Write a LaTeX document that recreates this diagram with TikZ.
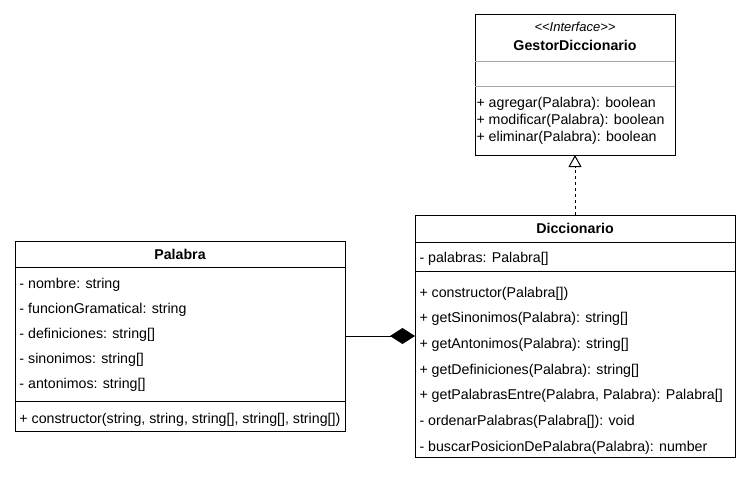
\documentclass[tikz,border=0pt]{standalone}
\usepackage{fontspec}
\setmainfont{Liberation Sans}
\usepackage{tikz}
\usetikzlibrary{arrows.meta,positioning}
\definecolor{sepgray}{HTML}{A6A6A6}

\begin{document}
\begin{tikzpicture}[x=1pt, y=-1pt, line width=1pt,
		every node/.style={font=\fontsize{14.2}{16.8}\selectfont},
		classbox/.style={draw, fill=white, inner sep=0pt, outer sep=0pt},
		classname/.style={font=\fontsize{14.2}{16.8}\selectfont\bfseries, inner sep=0pt},
		member/.style={anchor=west, inner sep=0pt, outer sep=0pt, text height=10pt, text depth=3pt}]
	\useasboundingbox (0,0) rectangle (751,476);

	% interfaz
	\node[classbox, minimum width=200pt, minimum height=140pt] (gestor) at (575,85) {};
	\node[font=\fontsize{13}{15}\selectfont\itshape, inner sep=0pt] (gestor-st) at (575,27) {<\kern0pt<Interface>\kern0pt>};
	\node[classname] (gestor-name) at (575,45) {GestorDiccionario};
	\draw[sepgray] (gestor.north west) ++(0,47) -- ++(200,0);
	\draw[sepgray] (gestor.north west) ++(0,72) -- ++(200,0);
	\node[anchor=west, align=left, inner sep=0pt] (gestor-ops) at (476,121) {+ agregar(Palabra): boolean\\+ modificar(Palabra): boolean\\+ eliminar(Palabra): boolean};

	% clase Diccionario
	\node[classbox, minimum width=320pt, minimum height=242pt] (diccionario) at (575,336) {};
	\node[classname] (dicc-name) at (575,228.5) {Diccionario};
	\draw (diccionario.north west) ++(0,27) -- ++(320,0);
	\node[member] (dicc-a1) at (419.5,258.5) {- palabras: Palabra[]};
	\draw (diccionario.north west) ++(0,56) -- ++(320,0);
	\node[member] (dicc-m1) at (419.5,293.5) {+ constructor(Palabra[])};
	\node[member, below=12.7pt of dicc-m1.south west, anchor=north west] (dicc-m2) {+ getSinonimos(Palabra): string[]};
	\node[member, below=12.7pt of dicc-m2.south west, anchor=north west] (dicc-m3) {+ getAntonimos(Palabra): string[]};
	\node[member, below=12.7pt of dicc-m3.south west, anchor=north west] (dicc-m4) {+ getDefiniciones(Palabra): string[]};
	\node[member, below=12.7pt of dicc-m4.south west, anchor=north west] (dicc-m5) {+ getPalabrasEntre(Palabra, Palabra): Palabra[]};
	\node[member, below=12.7pt of dicc-m5.south west, anchor=north west] (dicc-m6) {- ordenarPalabras(Palabra[]): void};
	\node[member, below=12.7pt of dicc-m6.south west, anchor=north west] (dicc-m7) {- buscarPosicionDePalabra(Palabra): number};

	% clase Palabra
	\node[classbox, minimum width=330pt, minimum height=190pt] (palabra) at (180,336) {};
	\node[classname] (pal-name) at (180,254) {Palabra};
	\draw (palabra.north west) ++(0,26) -- ++(330,0);
	\node[member] (pal-a1) at (19.5,284.5) {- nombre: string};
	\node[member, below=12.1pt of pal-a1.south west, anchor=north west] (pal-a2) {- funcionGramatical: string};
	\node[member, below=12.1pt of pal-a2.south west, anchor=north west] (pal-a3) {- definiciones: string[]};
	\node[member, below=12.1pt of pal-a3.south west, anchor=north west] (pal-a4) {- sinonimos: string[]};
	\node[member, below=12.1pt of pal-a4.south west, anchor=north west] (pal-a5) {- antonimos: string[]};
	\draw (palabra.north west) ++(0,160) -- ++(330,0);
	\node[member] (pal-m1) at (19.5,419.5) {+ constructor(string, string, string[], string[], string[])};

	% relaciones
	\draw[-{Diamond[length=25pt, width=16pt]}] (palabra.east) -- (diccionario.west);
	\draw[dash pattern=on 3pt off 3pt, -{Triangle[open, length=12pt, width=13pt]}] (diccionario.north) -- (gestor.south);
\end{tikzpicture}
\end{document}
